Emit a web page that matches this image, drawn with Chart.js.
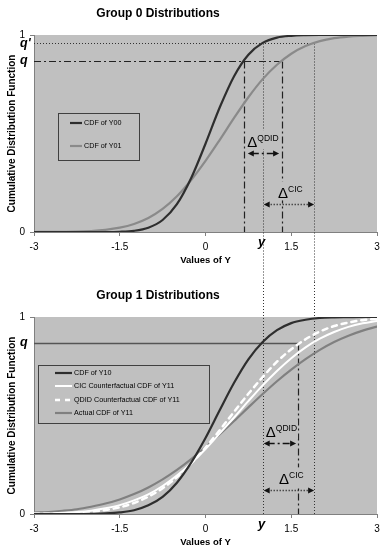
<!DOCTYPE html>
<html><head><meta charset="utf-8">
<script src="https://cdn.jsdelivr.net/npm/chart.js@4/dist/chart.umd.min.js"></script>
<style>
html,body{margin:0;padding:0;background:#fff;overflow:hidden;width:380px;height:546px}
.wrap{position:absolute;left:0;width:380px;height:282px}
</style></head><body>
<div class="wrap" style="top:0"><canvas id="c0" width="380" height="282"></canvas></div>
<div class="wrap" style="top:282px"><canvas id="c1" width="380" height="282"></canvas></div>
<script>
// ---------- data ----------
const xValues   = [-3,-2.75,-2.5,-2.25,-2,-1.75,-1.5,-1.25,-1,-0.75,-0.5,-0.25,0,0.25,0.5,0.75,1,1.25,1.5,1.75,2,2.25,2.5,2.75,3];
const cdfY00    = [0,0,0,0,0,0,0.001,0.006,0.022,0.061,0.141,0.274,0.448,0.633,0.791,0.900,0.960,0.987,0.996,0.999,1,1,1,1,1];
const cdfY01    = [0.0001,0.0003,0.001,0.002,0.005,0.011,0.022,0.041,0.071,0.117,0.181,0.264,0.361,0.468,0.579,0.684,0.776,0.849,0.905,0.944,0.969,0.984,0.992,0.996,0.999];
const cdfY10    = [0,0,0,0,0.001,0.003,0.008,0.019,0.044,0.087,0.159,0.261,0.386,0.528,0.666,0.785,0.873,0.933,0.969,0.986,0.995,0.998,0.999,1,1];
const cicY11    = [0.002,0.003,0.006,0.010,0.017,0.029,0.045,0.069,0.100,0.142,0.195,0.258,0.330,0.409,0.490,0.573,0.653,0.726,0.791,0.846,0.890,0.924,0.950,0.968,0.980];
const qdidY11   = [0.001,0.001,0.003,0.006,0.011,0.020,0.034,0.056,0.088,0.131,0.187,0.257,0.337,0.426,0.519,0.610,0.695,0.773,0.836,0.887,0.926,0.954,0.972,0.984,0.991];
const actualY11 = [0.007,0.010,0.016,0.024,0.037,0.053,0.074,0.101,0.135,0.176,0.224,0.279,0.339,0.405,0.472,0.541,0.609,0.674,0.733,0.786,0.833,0.873,0.905,0.931,0.951];

const xTickValues = [-3,-1.5,0,1.5,3];
const yTickValues = [0,1];
const titles = ['Group 0 Distributions','Group 1 Distributions'];
const labelsTop = ['CDF of Y00','CDF of Y01'];
const labelsBottom = ['CDF of Y10','CIC Counterfactual CDF of Y11','QDID Counterfactual CDF of Y11','Actual CDF of Y11'];

// quantile levels and quantile points
const qLevel = 0.87, qPrimeLevel = 0.96;
const yPoint = 1.0;                 // F00^-1(q')
const topQ00 = 0.67, topQ01 = 1.34; // F00^-1(q), F01^-1(q)
const cicPoint = 1.9;               // F01^-1(q') and CIC counterfactual at q
const qdidPoint = 1.62;             // QDID counterfactual at q
const arrowLevelsTop = [0.40, 0.14];    // QDID, CIC arrows
const arrowLevelsBottom = [0.36, 0.12];

const FONT = '"Liberation Sans", Arial, sans-serif';
const BG = '#c0c0c0';

function pts(ys){ return xValues.map((x,i)=>({x:x,y:ys[i]})); }

// ---------- drawing helpers ----------
function line(ctx,x1,y1,x2,y2,dash,color,w){
  ctx.save();ctx.beginPath();ctx.setLineDash(dash);ctx.strokeStyle=color;ctx.lineWidth=w;
  ctx.moveTo(x1,y1);ctx.lineTo(x2,y2);ctx.stroke();ctx.restore();
}
function crisp(v){ return Math.round(v)+0.5; }
const DOT=[1,2], DASHDOT=[7,3,2,3];
function arrow(ctx,x1,x2,y,dash){
  y=crisp(y);
  line(ctx,x1+4,y,x2-4,y,dash,'#111',1.3);
  ctx.save();ctx.fillStyle='#111';
  ctx.beginPath();ctx.moveTo(x1,y);ctx.lineTo(x1+6,y-3);ctx.lineTo(x1+6,y+3);ctx.closePath();ctx.fill();
  ctx.beginPath();ctx.moveTo(x2,y);ctx.lineTo(x2-6,y-3);ctx.lineTo(x2-6,y+3);ctx.closePath();ctx.fill();
  ctx.restore();
}
function deltaLabel(ctx,mid,y,sup){
  ctx.save();
  ctx.font='15px '+FONT; const wD=ctx.measureText('\u0394').width;
  ctx.font='8.5px '+FONT; const wS=ctx.measureText(sup).width;
  const left=mid-(wD+wS)/2;
  ctx.fillStyle=BG; ctx.fillRect(left-1,y-23,wD+wS+2,19);
  ctx.fillStyle='#000'; ctx.textBaseline='alphabetic'; ctx.textAlign='left';
  ctx.font='15px '+FONT; ctx.fillText('\u0394',left,y-6);
  ctx.font='8.5px '+FONT; ctx.fillText(sup,left+wD,y-12);
  ctx.restore();
}
function legendBox(ctx,chart,box,rowYs,lineX1,lineX2,textX){
  ctx.save();
  ctx.fillStyle=BG; ctx.fillRect(box.x,box.y,box.w,box.h);
  ctx.strokeStyle='#404040'; ctx.lineWidth=1; ctx.strokeRect(box.x+0.5,box.y+0.5,box.w,box.h);
  chart.data.datasets.forEach((ds,i)=>{
    const y=rowYs[i];
    line(ctx,lineX1,y,lineX2,y,ds.borderDash||[],ds.borderColor,ds.borderWidth);
    ctx.fillStyle='#000'; ctx.font='7.2px '+FONT; ctx.textBaseline='middle'; ctx.textAlign='left';
    ctx.fillText(ds.label,textX,y);
  });
  ctx.restore();
}
function commonText(ctx,chart,title,showQPrime){
  const xs=chart.scales.x, ys=chart.scales.y;
  ctx.save();
  ctx.fillStyle='#000'; ctx.textAlign='center'; ctx.textBaseline='middle';
  ctx.font='bold 12px '+FONT; ctx.fillText(title,158,14);
  ctx.font='italic bold 13px '+FONT; ctx.fillText('y',xs.getPixelForValue(yPoint)-1,xs.top+10);
  ctx.textAlign='left'; ctx.font='italic bold 12.5px '+FONT;
  ctx.fillText('q',20,ys.getPixelForValue(qLevel));
  if(showQPrime) ctx.fillText("q'",20,ys.getPixelForValue(qPrimeLevel)+1);
  ctx.restore();
}

const bgPlugin={id:'bg',beforeDraw(chart){
  const a=chart.chartArea,ctx=chart.ctx; ctx.save();ctx.fillStyle=BG;ctx.fillRect(a.left,a.top,a.right-a.left,a.bottom-a.top);ctx.restore();
}};

const topPlugin={id:'topAnn',
  beforeDatasetsDraw(chart){
    const ctx=chart.ctx,xs=chart.scales.x,ys=chart.scales.y,a=chart.chartArea,H=chart.height;
    const yq=crisp(ys.getPixelForValue(qLevel)), yqp=crisp(ys.getPixelForValue(qPrimeLevel));
    const x00=crisp(xs.getPixelForValue(topQ00)), x01=crisp(xs.getPixelForValue(topQ01));
    const xy=crisp(xs.getPixelForValue(yPoint)), xc=crisp(xs.getPixelForValue(cicPoint));
    line(ctx,a.left,yqp,xc,yqp,DOT,'#333',1);
    line(ctx,a.left,yq,x01,yq,DASHDOT,'#222',1.2);
    line(ctx,x00,yq,x00,a.bottom,DASHDOT,'#222',1.2);
    line(ctx,x01,yq,x01,a.bottom,DASHDOT,'#222',1.2);
    line(ctx,xy,yqp,xy,H,DOT,'#333',1);
    line(ctx,xc,yqp,xc,H,DOT,'#333',1);
  },
  afterDatasetsDraw(chart){
    const ctx=chart.ctx,xs=chart.scales.x,ys=chart.scales.y;
    const x00=xs.getPixelForValue(topQ00), x01=xs.getPixelForValue(topQ01);
    const xy=xs.getPixelForValue(yPoint), xc=xs.getPixelForValue(cicPoint);
    const aq=ys.getPixelForValue(arrowLevelsTop[0]), ac=ys.getPixelForValue(arrowLevelsTop[1]);
    deltaLabel(ctx,(x00+x01)/2,aq,'QDID');
    deltaLabel(ctx,(xy+xc)/2+2,ac,'CIC');
    arrow(ctx,x00+4,x01-3,aq,DASHDOT);
    arrow(ctx,xy+1,xc,ac,DOT);
    legendBox(ctx,chart,{x:58,y:113,w:81,h:47},[123,146],70,82,84);
  },
  afterDraw(chart){ commonText(chart.ctx,chart,titles[0],true); }
};

const botPlugin={id:'botAnn',
  beforeDatasetsDraw(chart){
    const ctx=chart.ctx,xs=chart.scales.x,ys=chart.scales.y,a=chart.chartArea;
    const yq=crisp(ys.getPixelForValue(qLevel));
    const xd=crisp(xs.getPixelForValue(qdidPoint));
    const xy=crisp(xs.getPixelForValue(yPoint)), xc=crisp(xs.getPixelForValue(cicPoint));
    line(ctx,a.left,yq,xd,yq,[],'#555',1.5);
    line(ctx,xd,yq,xd,a.bottom,DASHDOT,'#222',1.2);
    line(ctx,xy,0,xy,a.bottom,DOT,'#333',1);
    line(ctx,xc,0,xc,a.bottom,DOT,'#333',1);
  },
  afterDatasetsDraw(chart){
    const ctx=chart.ctx,xs=chart.scales.x,ys=chart.scales.y;
    const xd=xs.getPixelForValue(qdidPoint);
    const xy=xs.getPixelForValue(yPoint), xc=xs.getPixelForValue(cicPoint);
    const aq=ys.getPixelForValue(arrowLevelsBottom[0]), ac=ys.getPixelForValue(arrowLevelsBottom[1]);
    deltaLabel(ctx,(xy+xd)/2+1,aq,'QDID');
    deltaLabel(ctx,(xy+xc)/2+3,ac,'CIC');
    arrow(ctx,xy+1,xd-2,aq,DASHDOT);
    arrow(ctx,xy+1,xc,ac,DOT);
    legendBox(ctx,chart,{x:38,y:83,w:171,h:58},[91,104,118,131],55,72,74);
  },
  afterDraw(chart){ commonText(chart.ctx,chart,titles[1],false); }
};

function options(){
  return {
    responsive:false, animation:false, events:[],
    layout:{padding:{top:35,right:3,bottom:14,left:0}},
    plugins:{legend:{display:false},tooltip:{enabled:false},title:{display:false}},
    elements:{point:{radius:0},line:{cubicInterpolationMode:'monotone',borderCapStyle:'round'}},
    scales:{
      x:{type:'linear',min:-3,max:3,
        afterBuildTicks:s=>{s.ticks=xTickValues.map(v=>({value:v}));},
        afterFit:s=>{s.height=36;s.paddingLeft=0;s.paddingRight=0;},
        grid:{drawOnChartArea:false,drawTicks:true,tickLength:4,tickColor:'#808080'},
        border:{color:'#808080',width:1},
        ticks:{color:'#000',font:{family:FONT,size:10},padding:5,maxRotation:0,autoSkip:false},
        title:{display:true,text:'Values of Y',color:'#000',font:{family:FONT,size:9.5,weight:'bold'},padding:{top:0,bottom:2}}
      },
      y:{min:0,max:1,
        afterBuildTicks:s=>{s.ticks=yTickValues.map(v=>({value:v}));},
        afterFit:s=>{s.width=34;s.paddingTop=0;s.paddingBottom=0;},
        grid:{drawOnChartArea:false,drawTicks:true,tickLength:4,tickColor:'#808080'},
        border:{color:'#808080',width:1},
        ticks:{color:'#000',font:{family:FONT,size:10},padding:5,autoSkip:false},
        title:{display:true,text:'Cumulative Distribution Function',color:'#000',font:{family:FONT,size:10,weight:'bold'},padding:{top:6,bottom:0}}
      }
    }
  };
}

new Chart(document.getElementById('c0'),{
  type:'line',
  data:{datasets:[
    {label:labelsTop[0],data:pts(cdfY00),borderColor:'#2e2e2e',borderWidth:2.2,fill:false},
    {label:labelsTop[1],data:pts(cdfY01),borderColor:'#8a8a8a',borderWidth:2.2,fill:false}
  ]},
  options:options(),
  plugins:[bgPlugin,topPlugin]
});

new Chart(document.getElementById('c1'),{
  type:'line',
  data:{datasets:[
    {label:labelsBottom[0],data:pts(cdfY10),borderColor:'#2e2e2e',borderWidth:2.2,fill:false},
    {label:labelsBottom[1],data:pts(cicY11),borderColor:'#ffffff',borderWidth:2,fill:false},
    {label:labelsBottom[2],data:pts(qdidY11),borderColor:'#ffffff',borderWidth:2.5,borderDash:[5,5],fill:false},
    {label:labelsBottom[3],data:pts(actualY11),borderColor:'#808080',borderWidth:2.2,fill:false}
  ]},
  options:options(),
  plugins:[bgPlugin,botPlugin]
});
</script>
</body></html>
